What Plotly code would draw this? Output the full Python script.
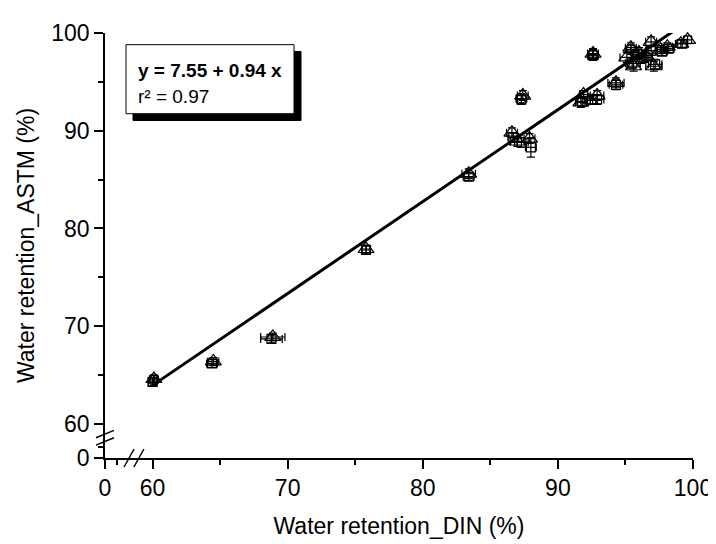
import plotly.graph_objects as go

# ---------------- data ----------------
# Triangles: DIN (x), ASTM (y), x error, y error
tri_x = [60.1, 64.5, 68.9, 75.8, 83.4, 86.6, 87.0, 87.4, 87.9, 91.7, 91.9, 92.4, 92.6,
         92.9, 94.3, 95.1, 95.4, 95.6, 96.0, 96.5, 96.9, 97.1, 97.6, 98.1, 99.1, 99.6]
tri_y = [64.6, 66.4, 68.9, 77.9, 85.6, 89.8, 88.9, 93.6, 89.2, 92.9, 93.7, 93.1, 97.9,
         93.6, 94.9, 97.5, 98.5, 96.6, 98.0, 97.7, 99.1, 96.6, 98.3, 98.6, 98.9, 99.3]
tri_xerr = [0.3, 0.4, 0.9, 0.3, 0.5, 0.4, 0.5, 0.4, 0.4, 0.4, 0.3, 0.4, 0.4,
            0.5, 0.6, 0.5, 0.4, 0.5, 0.4, 0.5, 0.4, 0.6, 0.4, 0.4, 0.4, 0.3]
tri_yerr = [0.4, 0.4, 0.4, 0.4, 0.5, 0.5, 0.5, 0.5, 0.5, 0.5, 0.4, 0.4, 0.5,
            0.5, 0.5, 0.5, 0.5, 0.5, 0.5, 0.5, 0.5, 0.5, 0.4, 0.4, 0.4, 0.4]

# Squares
sq_x = [60.0, 64.4, 68.8, 75.8, 83.4, 86.7, 87.3, 88.0, 87.3, 91.8, 92.6, 92.9,
        94.3, 95.5, 95.9, 96.4, 96.9, 97.2, 97.7, 98.2, 99.2]
sq_y = [64.3, 66.2, 68.7, 77.8, 85.3, 89.3, 88.8, 88.3, 93.2, 93.0, 97.7, 93.2,
        94.7, 96.9, 97.8, 97.5, 98.2, 96.8, 98.1, 98.4, 98.9]
sq_xerr = [0.3, 0.4, 0.8, 0.3, 0.4, 0.4, 0.5, 0.4, 0.3, 0.4, 0.4, 0.5,
           0.5, 0.5, 0.4, 0.5, 0.4, 0.5, 0.4, 0.4, 0.4]
sq_yerr = [0.4, 0.4, 0.4, 0.4, 0.4, 0.5, 0.5, 1.0, 0.5, 0.5, 0.5, 0.5,
           0.5, 0.5, 0.5, 0.5, 0.5, 0.5, 0.4, 0.4, 0.4]

# Circles
ci_x = [60.1, 87.3, 92.6, 95.4, 96.2]
ci_y = [64.5, 93.3, 97.8, 98.3, 97.4]
ci_xerr = [0.3, 0.4, 0.4, 0.4, 0.4]
ci_yerr = [0.5, 0.5, 0.5, 0.5, 0.5]

# Linear fit
intercept = 7.55
slope = 0.94
r_squared = 0.97
fit_x = [60.0, 99.6]
fit_y = [intercept + slope * v for v in fit_x]

# Axis ticks (axes are broken between 0 and 60)
x_ticks = [60, 70, 80, 90, 100]
y_ticks = [60, 70, 80, 90, 100]
x_zero_at = 56.48   # position used for the "0" label left of the break
y_zero_at = 56.52
x_minor = [57.35, 65, 75, 85, 95]
y_minor = [57.67, 65, 75, 85, 95]

FONT = "Liberation Sans, Arial, sans-serif"

fig = go.Figure()


def add_series(x, y, xe, ye, symbol, size):
    fig.add_trace(go.Scatter(
        x=x, y=y, mode="markers",
        marker=dict(symbol=symbol, size=size, color="black",
                    line=dict(color="black", width=1.2)),
        error_x=dict(type="data", array=xe, visible=True, color="black",
                     thickness=1.2, width=4),
        error_y=dict(type="data", array=ye, visible=True, color="black",
                     thickness=1.2, width=4),
        showlegend=False, cliponaxis=False))


add_series(sq_x, sq_y, sq_xerr, sq_yerr, "square-open", 9)
add_series(ci_x, ci_y, ci_xerr, ci_yerr, "circle-open", 9)
add_series(tri_x, tri_y, tri_xerr, tri_yerr, "triangle-up-open", 14)

fig.add_trace(go.Scatter(x=fit_x, y=fit_y, mode="lines",
                         line=dict(color="black", width=3),
                         showlegend=False))

# axis break marks
shapes = []
for xc in [58.26, 58.99]:
    shapes.append(dict(type="line", xref="x", yref="paper",
                       xsizemode="pixel", ysizemode="pixel",
                       xanchor=xc, yanchor=0,
                       x0=-5, x1=5, y0=-9, y1=9,
                       line=dict(color="black", width=1.5)))
for yc in [58.97, 58.21]:
    shapes.append(dict(type="line", xref="paper", yref="y",
                       xsizemode="pixel", ysizemode="pixel",
                       xanchor=0, yanchor=yc,
                       x0=-9, x1=9, y0=-3.7, y1=3.7,
                       line=dict(color="black", width=1.5)))

# text box with shadow (page pixel coords converted to paper coords)
W, H = 588.0, 437.0
bx0, by0, bx1, by1 = 126, 33, 294, 104
ox, oy = 105, 21


def px(v):
    return (v - ox) / W


def py(v):
    return 1 - (v - oy) / H


shapes.append(dict(type="rect", xref="paper", yref="paper",
                   x0=px(bx0 + 7), x1=px(bx1 + 7), y0=py(by1 + 7), y1=py(by0 + 7),
                   fillcolor="black", line=dict(color="black", width=1)))
shapes.append(dict(type="rect", xref="paper", yref="paper",
                   x0=px(bx0), x1=px(bx1), y0=py(by1), y1=py(by0),
                   fillcolor="white", line=dict(color="black", width=1)))

annotations = [
    dict(text=f"<b>y = {intercept:.2f} + {slope:.2f} x</b>", xref="paper", yref="paper",
         x=px(136), y=py(60), xanchor="left", yanchor="middle", showarrow=False,
         font=dict(family=FONT, size=19, color="black")),
    dict(text=f"r² = {r_squared:.2f}", xref="paper", yref="paper",
         x=px(136), y=py(86), xanchor="left", yanchor="middle", showarrow=False,
         font=dict(family=FONT, size=19, color="black")),
]

fig.update_layout(
    width=716, height=544,
    margin=dict(l=97, r=31, t=13, b=94),
    paper_bgcolor="white", plot_bgcolor="white",
    font=dict(family=FONT, size=23, color="black"),
    shapes=shapes, annotations=annotations,
    xaxis=dict(range=[x_zero_at, 100], showgrid=False, zeroline=False,
               showline=True, linecolor="black", linewidth=1.5,
               tickmode="array", tickvals=[x_zero_at] + x_ticks,
               ticktext=["0"] + [str(v) for v in x_ticks],
               ticks="outside", ticklen=9, tickwidth=1.5, tickcolor="black",
               tickfont=dict(size=23),
               minor=dict(tickmode="array", tickvals=x_minor, ticks="outside",
                          ticklen=5, tickwidth=1.5, tickcolor="black", showgrid=False),
               title=dict(text="Water retention_DIN (%)", font=dict(size=23), standoff=18)),
    yaxis=dict(range=[y_zero_at, 100], showgrid=False, zeroline=False,
               showline=True, linecolor="black", linewidth=1.5,
               tickmode="array", tickvals=[y_zero_at] + y_ticks,
               ticktext=["0"] + [str(v) for v in y_ticks],
               ticks="outside", ticklen=9, tickwidth=1.5, tickcolor="black",
               tickfont=dict(size=23),
               minor=dict(tickmode="array", tickvals=y_minor, ticks="outside",
                          ticklen=5, tickwidth=1.5, tickcolor="black", showgrid=False),
               title=dict(text="Water retention_ASTM (%)", font=dict(size=23), standoff=10)),
)

fig.write_html("out.html")
